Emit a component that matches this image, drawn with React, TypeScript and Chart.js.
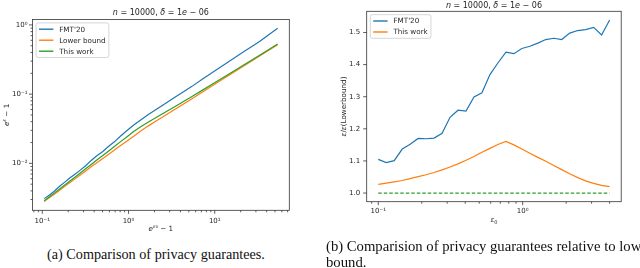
import React, { useEffect, useRef } from "react";
import { Chart, registerables } from "chart.js";
Chart.register(...registerables);

// ---------- data ----------
const EPS0 = [0.1, 0.1136, 0.129, 0.1465, 0.1663, 0.1889, 0.2145, 0.2436, 0.2766, 0.3141, 0.3567, 0.4051, 0.46, 0.5224, 0.5933, 0.6737, 0.7651, 0.8689, 0.9867, 1.1205, 1.2725, 1.4451, 1.6411, 1.8636, 2.1164, 2.4034, 2.7294, 3.0996, 3.5199, 4.0];
const EXP_EPS0_M1 = [0.1052, 0.1203, 0.1376, 0.1577, 0.1809, 0.2079, 0.2392, 0.2758, 0.3187, 0.3691, 0.4287, 0.4995, 0.5841, 0.6862, 0.81, 0.9616, 1.1492, 1.3843, 1.6824, 2.0665, 2.5698, 3.2425, 4.1608, 5.4465, 7.3016, 10.062, 14.323, 21.187, 32.782, 53.598];
const FMT20_ABS = [0.003093, 0.003472, 0.003953, 0.004623, 0.005316, 0.006143, 0.006982, 0.007977, 0.009234, 0.011027, 0.012863, 0.01469, 0.01752, 0.020464, 0.024822, 0.029756, 0.035765, 0.042194, 0.050429, 0.059487, 0.070989, 0.086001, 0.10496, 0.12951, 0.16666, 0.21756, 0.29125, 0.40457, 0.57037, 0.8979];
const LOWER_ABS = [0.002799, 0.00317, 0.003589, 0.004064, 0.004613, 0.005248, 0.00597, 0.006808, 0.00778, 0.008913, 0.01021, 0.01169, 0.01346, 0.01556, 0.01807, 0.02109, 0.02472, 0.02924, 0.03451, 0.04046, 0.04786, 0.05741, 0.06966, 0.0859, 0.1084, 0.1396, 0.1845, 0.2512, 0.3532, 0.5164];
const THIS_ABS = [0.002874, 0.003268, 0.003715, 0.004223, 0.004821, 0.005516, 0.006311, 0.007245, 0.008343, 0.009638, 0.011147, 0.012887, 0.015005, 0.017553, 0.020609, 0.024312, 0.028758, 0.033698, 0.039332, 0.045587, 0.053311, 0.063267, 0.075883, 0.092441, 0.11524, 0.14678, 0.19225, 0.25962, 0.3631, 0.529];
const FMT20_RATIO = [1.105, 1.095, 1.101, 1.137, 1.152, 1.17, 1.169, 1.171, 1.186, 1.236, 1.258, 1.255, 1.299, 1.312, 1.369, 1.405, 1.439, 1.434, 1.45, 1.457, 1.467, 1.478, 1.482, 1.478, 1.498, 1.506, 1.509, 1.516, 1.492, 1.539];
const THIS_RATIO = [1.027, 1.031, 1.035, 1.039, 1.045, 1.051, 1.057, 1.064, 1.072, 1.081, 1.091, 1.102, 1.114, 1.127, 1.139, 1.151, 1.161, 1.15, 1.137, 1.124, 1.111, 1.099, 1.086, 1.073, 1.06, 1.048, 1.038, 1.03, 1.024, 1.02];
const BASE_X = [0.1, 4.0];
const BASE_RATIO = [1.0, 1.0];

const LEFT_X_EXPS = [-1, 0, 1];
const LEFT_Y_EXPS = [-2, -1, 0];
const RIGHT_X_EXPS = [-1, 0];
const RATIO_TICKS = [1.0, 1.1, 1.2, 1.3, 1.4, 1.5];

const BLUE = "#1f77b4";
const ORANGE = "#ff7f0e";
const GREEN = "#2ca02c";
const FONT = '"DejaVu Sans", sans-serif';
const TEXT = "#262626";

// ---------- helpers ----------
const SUP: Record<string, string> = { "-": "\u207B", "0": "\u2070", "1": "\u00B9", "2": "\u00B2", "3": "\u00B3", "4": "\u2074", "5": "\u2075", "6": "\u2076", "7": "\u2077", "8": "\u2078", "9": "\u2079" };
const powLabel = (e: number) => "10" + String(e).split("").map((c) => SUP[c] || c).join("");

function logRange(vals: number[]) {
  const l = vals.map((v) => Math.log10(v));
  const lo = Math.min(...l), hi = Math.max(...l);
  const p = 0.05 * (hi - lo);
  return [Math.pow(10, lo - p), Math.pow(10, hi + p)];
}
function linRange(vals: number[]) {
  const lo = Math.min(...vals), hi = Math.max(...vals);
  const p = 0.05 * (hi - lo);
  return [lo - p, hi + p];
}
function pts(xs: number[], ys: number[]) {
  return xs.map((x, i) => ({ x, y: ys[i] }));
}

type Seg = { t: string; it?: boolean; s?: number; dy?: number };
function drawRich(ctx: CanvasRenderingContext2D, segs: Seg[], x: number, y: number, size: number, rot = 0) {
  ctx.save();
  ctx.translate(x, y);
  if (rot) ctx.rotate(rot);
  const fontOf = (s: Seg) => `${s.it ? "italic " : ""}${(size * (s.s || 1)).toFixed(2)}px ${FONT}`;
  let w = 0;
  for (const s of segs) { ctx.font = fontOf(s); w += ctx.measureText(s.t).width; }
  let cx = -w / 2;
  ctx.textBaseline = "alphabetic";
  ctx.textAlign = "left";
  ctx.fillStyle = TEXT;
  const base = size * 0.36;
  for (const s of segs) {
    ctx.font = fontOf(s);
    ctx.fillText(s.t, cx, base + (s.dy || 0));
    cx += ctx.measureText(s.t).width;
  }
  ctx.restore();
}

type Cfg = {
  title: Seg[];
  xTitle: Seg[];
  yTitle: Seg[];
  yTitleOff: number;
  titleOff: number;
  yLog: boolean;
  yMajors: number[];
};

function decorPlugin(cfg: Cfg) {
  return {
    id: "decor",
    afterDraw(chart: any) {
      const ctx: CanvasRenderingContext2D = chart.ctx;
      const a = chart.chartArea;
      const xs = chart.scales.x, ys = chart.scales.y;
      ctx.save();
      // ticks
      ctx.strokeStyle = "#333";
      ctx.lineWidth = 0.8;
      const tick = (p: number, horiz: boolean, len: number) => {
        ctx.beginPath();
        if (horiz) { ctx.moveTo(p, a.bottom); ctx.lineTo(p, a.bottom + len); }
        else { ctx.moveTo(a.left, p); ctx.lineTo(a.left - len, p); }
        ctx.stroke();
      };
      const logTicks = (sc: any, horiz: boolean) => {
        const k0 = Math.floor(Math.log10(sc.min)), k1 = Math.ceil(Math.log10(sc.max));
        for (let k = k0; k <= k1; k++) {
          for (let m = 1; m <= 9; m++) {
            const v = m * Math.pow(10, k);
            if (v < sc.min || v > sc.max) continue;
            tick(sc.getPixelForValue(v), horiz, m === 1 ? 3.5 : 2);
          }
        }
      };
      logTicks(xs, true);
      if (cfg.yLog) logTicks(ys, false);
      else cfg.yMajors.forEach((v) => tick(ys.getPixelForValue(v), false, 3.5));
      // frame
      ctx.strokeStyle = "#333";
      ctx.lineWidth = 0.8;
      ctx.strokeRect(a.left, a.top, a.right - a.left, a.bottom - a.top);
      // legend
      const f = 7.2;
      const items = chart.data.datasets.filter((d: any) => d.label);
      ctx.font = `${f}px ${FONT}`;
      const tw = Math.max(...items.map((d: any) => ctx.measureText(d.label).width));
      const bx = a.left + 3.6, by = a.top + 3.4;
      const bw = 2.9 + 14.4 + 5.8 + tw + 3.2;
      const bh = 12.6 + (items.length - 1) * 11;
      ctx.beginPath();
      (ctx as any).roundRect(bx, by, bw, bh, 2);
      ctx.fillStyle = "rgba(255,255,255,0.8)";
      ctx.fill();
      ctx.strokeStyle = "#cccccc";
      ctx.lineWidth = 0.8;
      ctx.stroke();
      items.forEach((d: any, i: number) => {
        const cy = by + 6.3 + i * 11;
        ctx.strokeStyle = d.borderColor;
        ctx.lineWidth = 1.4;
        ctx.setLineDash([]);
        ctx.beginPath();
        ctx.moveTo(bx + 2.9, cy);
        ctx.lineTo(bx + 2.9 + 14.4, cy);
        ctx.stroke();
        ctx.fillStyle = TEXT;
        ctx.textBaseline = "middle";
        ctx.textAlign = "left";
        ctx.fillText(d.label, bx + 2.9 + 14.4 + 5.8, cy + 0.5);
      });
      ctx.restore();
      // titles
      const cx = (a.left + a.right) / 2, cyy = (a.top + a.bottom) / 2;
      drawRich(ctx, cfg.title, cx, a.top - cfg.titleOff, 8);
      drawRich(ctx, cfg.xTitle, cx, a.bottom + 18, 7.2);
      drawRich(ctx, cfg.yTitle, a.left - cfg.yTitleOff, cyy, 7.2, -Math.PI / 2);
    },
  };
}

const GRID_OFF = { display: false, drawTicks: false, tickLength: 0 };

function makeChart(canvas: HTMLCanvasElement, which: "left" | "right") {
  const tickFont = { family: FONT, size: 7 };
  if (which === "left") {
    const [xmin, xmax] = logRange(EXP_EPS0_M1);
    const [ymin, ymax] = logRange([...FMT20_ABS, ...LOWER_ABS, ...THIS_ABS]);
    const cfg: Cfg = {
      title: [{ t: "n", it: true }, { t: " = 10000, " }, { t: "\u03B4", it: true }, { t: " = 1" }, { t: "e", it: true }, { t: " \u2212 06" }],
      xTitle: [{ t: "e", it: true }, { t: "\u03B5", it: true, s: 0.7, dy: -3.3 }, { t: "0", s: 0.5, dy: -2.4 }, { t: " \u2212 1" }],
      yTitle: [{ t: "e", it: true }, { t: "\u03B5", it: true, s: 0.7, dy: -3.3 }, { t: " \u2212 1" }],
      yTitleOff: 26,
      titleOff: 7,
      yLog: true,
      yMajors: [],
    };
    return new Chart(canvas, {
      type: "line",
      data: {
        datasets: [
          { label: "FMT'20", data: pts(EXP_EPS0_M1, FMT20_ABS), borderColor: BLUE, order: 3 },
          { label: "Lower bound", data: pts(EXP_EPS0_M1, LOWER_ABS), borderColor: ORANGE, order: 2 },
          { label: "This work", data: pts(EXP_EPS0_M1, THIS_ABS), borderColor: GREEN, order: 1 },
        ].map((d) => ({ ...d, borderWidth: 1.2, pointRadius: 0, tension: 0, fill: false })),
      },
      options: {
        animation: false,
        responsive: false,
        maintainAspectRatio: false,
        layout: { padding: { top: 19.5, right: 30.7, bottom: 0, left: 0 } },
        plugins: { legend: { display: false }, title: { display: false }, tooltip: { enabled: false } },
        scales: {
          x: {
            type: "logarithmic", min: xmin, max: xmax,
            grid: GRID_OFF, border: { display: false },
            ticks: {
              autoSkip: false, maxRotation: 0, minRotation: 0, padding: 6.5, font: tickFont, color: TEXT,
              callback: (v: any) => { const e = Math.log10(Number(v)); const r = Math.round(e); return Math.abs(e - r) < 1e-6 && LEFT_X_EXPS.includes(r) ? powLabel(r) : ""; },
            },
            afterFit: (s: any) => { s.height = 29.7; },
          },
          y: {
            type: "logarithmic", min: ymin, max: ymax,
            grid: GRID_OFF, border: { display: false },
            ticks: {
              autoSkip: false, padding: 5, font: tickFont, color: TEXT,
              callback: (v: any) => { const e = Math.log10(Number(v)); const r = Math.round(e); return Math.abs(e - r) < 1e-6 && LEFT_Y_EXPS.includes(r) ? powLabel(r) : ""; },
            },
            afterFit: (s: any) => { s.width = 32.5; },
          },
        },
      } as any,
      plugins: [decorPlugin(cfg)],
    } as any);
  }
  const [xmin, xmax] = logRange(EPS0);
  const [ymin, ymax] = linRange([...FMT20_RATIO, ...THIS_RATIO, ...BASE_RATIO]);
  const cfg: Cfg = {
    title: [{ t: "n", it: true }, { t: " = 10000, " }, { t: "\u03B4", it: true }, { t: " = 1" }, { t: "e", it: true }, { t: " \u2212 06" }],
    xTitle: [{ t: "\u03B5", it: true }, { t: "0", s: 0.7, dy: 1.5 }],
    yTitle: [{ t: "\u03B5", it: true }, { t: "/" }, { t: "\u03B5", it: true }, { t: "(Lowerbound)" }],
    yTitleOff: 23,
    titleOff: 6.5,
    yLog: false,
    yMajors: RATIO_TICKS,
  };
  return new Chart(canvas, {
    type: "line",
    data: {
      datasets: [
        { label: "FMT'20", data: pts(EPS0, FMT20_RATIO), borderColor: BLUE, order: 3 },
        { label: "This work", data: pts(EPS0, THIS_RATIO), borderColor: ORANGE, order: 2 },
        { label: "", data: pts(BASE_X, BASE_RATIO), borderColor: GREEN, borderDash: [3.5, 2], order: 1 },
      ].map((d) => ({ ...d, borderWidth: 1.2, pointRadius: 0, tension: 0, fill: false })),
    },
    options: {
      animation: false,
      responsive: false,
      maintainAspectRatio: false,
      layout: { padding: { top: 11.3, right: 18.8, bottom: 0, left: 0 } },
      plugins: { legend: { display: false }, title: { display: false }, tooltip: { enabled: false } },
      scales: {
        x: {
          type: "logarithmic", min: xmin, max: xmax,
          grid: GRID_OFF, border: { display: false },
          ticks: {
            autoSkip: false, maxRotation: 0, minRotation: 0, padding: 5, font: tickFont, color: TEXT,
            callback: (v: any) => { const e = Math.log10(Number(v)); const r = Math.round(e); return Math.abs(e - r) < 1e-6 && RIGHT_X_EXPS.includes(r) ? powLabel(r) : ""; },
          },
          afterFit: (s: any) => { s.height = 38.3; },
        },
        y: {
          type: "linear", min: ymin, max: ymax,
          grid: GRID_OFF, border: { display: false },
          ticks: {
            autoSkip: false, stepSize: 0.1, includeBounds: false, padding: 6.5, font: tickFont, color: TEXT,
            callback: (v: any) => { const n = Number(v); const hit = RATIO_TICKS.find((t) => Math.abs(t - n) < 1e-6); return hit !== undefined ? hit.toFixed(1) : ""; },
          },
          afterFit: (s: any) => { s.width = 46.7; },
        },
      },
    } as any,
    plugins: [decorPlugin(cfg)],
  } as any);
}

function ChartCanvas({ which, left }: { which: "left" | "right"; left: number }) {
  const ref = useRef<HTMLCanvasElement | null>(null);
  useEffect(() => {
    if (!ref.current) return;
    const c = makeChart(ref.current, which);
    return () => c.destroy();
  }, [which]);
  return <canvas ref={ref} width={320} height={240} style={{ position: "absolute", left, top: 0, width: 320, height: 240 }} />;
}

const captionStyle: React.CSSProperties = {
  position: "absolute",
  fontFamily: '"Liberation Serif", "Times New Roman", serif',
  lineHeight: "16px",
  color: "#111",
  whiteSpace: "nowrap",
};

export default function App() {
  return (
    <div style={{ position: "fixed", left: 0, top: 0, width: 640, height: 268, overflow: "hidden", background: "#fff" }}>
      <ChartCanvas which="left" left={0} />
      <ChartCanvas which="right" left={320} />
      <div style={{ ...captionStyle, fontSize: 14.2, left: 0, width: 312, top: 246, textAlign: "center" }}>(a) Comparison of privacy guarantees.</div>
      <div style={{ ...captionStyle, fontSize: 14.7, left: 326, top: 238, textAlign: "left" }}>
        (b) Comparision of privacy guarantees relative to lower
        <br />
        bound.
      </div>
    </div>
  );
}
